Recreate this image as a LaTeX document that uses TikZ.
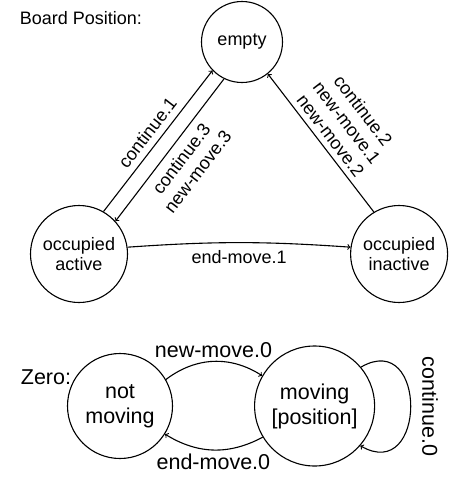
\documentclass[tikz,border=0pt]{standalone}
\usepackage{fontspec}
\setmainfont{Liberation Sans}
\usetikzlibrary{arrows}
\usetikzlibrary{automata, positioning}

\newcommand{\boardfont}{\fontsize{18}{20.5}\selectfont}
\newcommand{\zerofont}{\fontsize{21.5}{25}\selectfont}

\begin{document}
\begin{tikzpicture}[x=1pt, y=1pt, line width=1.1pt,
    every node/.style={align=center, font=\boardfont},
    place/.style={draw, circle, inner sep=0pt, minimum size=97pt},
    phase/.style={draw, circle, inner sep=0pt, font=\zerofont}]

    \useasboundingbox (0,0) rectangle (448,-477);

    % board position
    \node[anchor=west] (board) at (16,-18) {Board Position:};
    \node[place, minimum size=81pt] (empty) at (242,-42) {empty};
    \node[place] (active) at (79,-254) {occupied\\active};
    \node[place, right=222pt of active] (inactive) {occupied\\inactive};

    % zero
    \node[anchor=west, font=\zerofont] (zero) at (17,-377) {Zero:};
    \node[phase, minimum size=105pt] (notmoving) at (120,-406) {not\\moving};
    \node[phase, minimum size=120pt, right=81pt of notmoving] (moving) {moving\\{[position]}};

    \draw[->] (active.60) -- (empty.224) node[midway, sloped, above=3pt] {continue.1};
    \draw[->] (empty.244) -- (active.42) node[midway, sloped, below=4pt] {continue.3\\new-move.3};
    \draw[->] (inactive.121) -- (empty.309) node[midway, sloped, above=2pt] {continue.2\\new-move.1\\new-move.2};
    \draw[->] (active.8) to[bend left=4] node[midway, below=4pt] {end-move.1} (inactive.172);

    \draw[->] (notmoving.30) to[bend left=35] node[midway, above, font=\zerofont] {new-move.0} (moving.150);
    \draw[->] (moving.211) to[bend left=30] node[midway, below, font=\zerofont] {end-move.0} (notmoving.328);
    \draw[->] (moving.40) to[out=30, in=-30, looseness=2.5] node[midway, anchor=south, rotate=-90, inner ysep=11pt, font=\zerofont] {continue.0} (moving.-41);
\end{tikzpicture}
\end{document}
